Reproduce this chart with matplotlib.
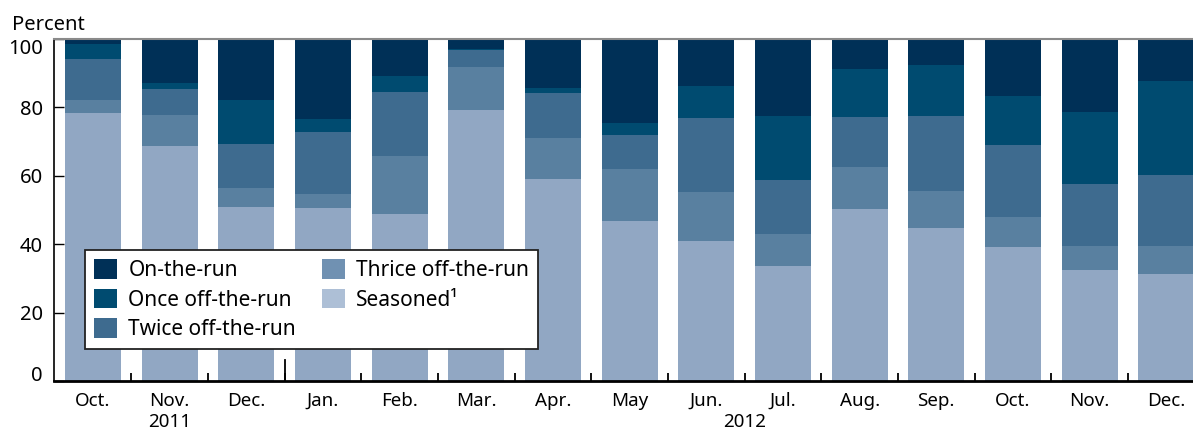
import numpy as np
import matplotlib
matplotlib.use("Agg")
import matplotlib.pyplot as plt
from matplotlib.patches import Patch

plt.rcParams['font.family'] = ['Noto Sans', 'DejaVu Sans']

months = ["Oct.", "Nov.", "Dec.", "Jan.", "Feb.", "Mar.", "Apr.", "May",
          "Jun.", "Jul.", "Aug.", "Sep.", "Oct.", "Nov.", "Dec."]
years = ["2011", "2012"]
year_pos = [1, 8.5]   # centred under Nov. 2011 and between Jun./Jul. 2012

# percent of volume, bottom to top
seasoned = [78.4, 68.7, 50.8, 50.5, 48.8, 79.3, 59.0, 46.7, 40.9, 33.5, 50.2, 44.7, 39.1, 32.6, 31.2]
thrice   = [3.8, 9.1, 5.6, 4.1, 17.0, 12.6, 12.1, 15.3, 14.3, 9.4, 12.4, 10.8, 8.8, 6.8, 8.2]
twice    = [12.0, 7.6, 12.9, 18.2, 18.8, 4.8, 13.2, 9.9, 21.7, 15.8, 14.6, 22.0, 21.1, 18.2, 20.8]
once     = [4.4, 1.8, 12.9, 3.8, 4.6, 0.3, 1.4, 3.6, 9.4, 18.8, 14.1, 15.0, 14.4, 21.1, 27.6]
on_run   = [1.4, 12.8, 17.8, 23.4, 10.8, 3.0, 14.3, 24.5, 13.7, 22.5, 8.7, 7.5, 16.6, 21.3, 12.2]

series = [seasoned, thrice, twice, once, on_run]
bar_colors = ["#91a7c3", "#5980a0", "#3e6b8f", "#004b70", "#003057"]

legend_labels = ["On-the-run", "Once off-the-run", "Twice off-the-run",
                 "Thrice off-the-run", "Seasoned\u00b9"]
legend_colors = ["#003057", "#004b70", "#3e6b8f", "#7091b2", "#adbfd6"]

fig = plt.figure(figsize=(11.93, 4.32), dpi=100)
ax = fig.add_axes([0.04526, 0.11806, 0.95474, 0.79167])

x = np.arange(len(months))
bottom = np.zeros(len(months))
for vals, col in zip(series, bar_colors):
    ax.bar(x, vals, width=0.73, bottom=bottom, color=col, linewidth=0)
    bottom += np.array(vals)

ax.set_xlim(-0.508, 14.348)
ax.set_ylim(0, 100)

# spines
ax.spines['right'].set_visible(False)
ax.spines['top'].set_color("#8a8a8a")
ax.spines['top'].set_linewidth(1.5)
ax.spines['left'].set_linewidth(1.2)
ax.spines['bottom'].set_linewidth(2.0)

# y axis
ax.set_yticks([0, 20, 40, 60, 80, 100])
ax.tick_params(axis='y', direction='in', length=7.5, width=1.0, pad=8, labelsize=14.5)
yticks = ax.yaxis.get_major_ticks()
yticks[0].label1.set_va('baseline')
yticks[-1].label1.set_va('top')

# x axis: month labels at bars, little ticks between the bars
ax.set_xticks(x)
ax.set_xticklabels(months)
ax.tick_params(axis='x', which='major', length=0, pad=8, labelsize=13.5)
ax.set_xticks(np.arange(0.5, 14, 1), minor=True)
ax.tick_params(axis='x', which='minor', direction='in', length=5.5, width=1.3)
# taller tick where the year changes
ax.axvline(2.5, ymin=0, ymax=0.06, color='black', linewidth=1.3)

for yr, pos in zip(years, year_pos):
    ax.annotate(yr, xy=(pos, 0), xycoords=('data', 'axes fraction'),
                xytext=(0, -23.2), textcoords='offset points',
                ha='center', va='top', fontsize=13.5)

fig.text(12 / 1193, 0.9306, "Percent", fontsize=14.5, va='baseline', ha='left')

handles = [Patch(facecolor=c, edgecolor='none') for c in legend_colors]
leg = ax.legend(handles, legend_labels, ncol=2, loc='upper left',
                bbox_to_anchor=(0.0272, 0.383), borderaxespad=0,
                fontsize=15, handlelength=1.1, handleheight=1.06,
                handletextpad=0.53, labelspacing=0.36, columnspacing=1.25,
                borderpad=0.45, fancybox=False, framealpha=1)
leg.get_frame().set_edgecolor('#222222')
leg.get_frame().set_linewidth(1.3)

fig.savefig("out.png", dpi=100)
